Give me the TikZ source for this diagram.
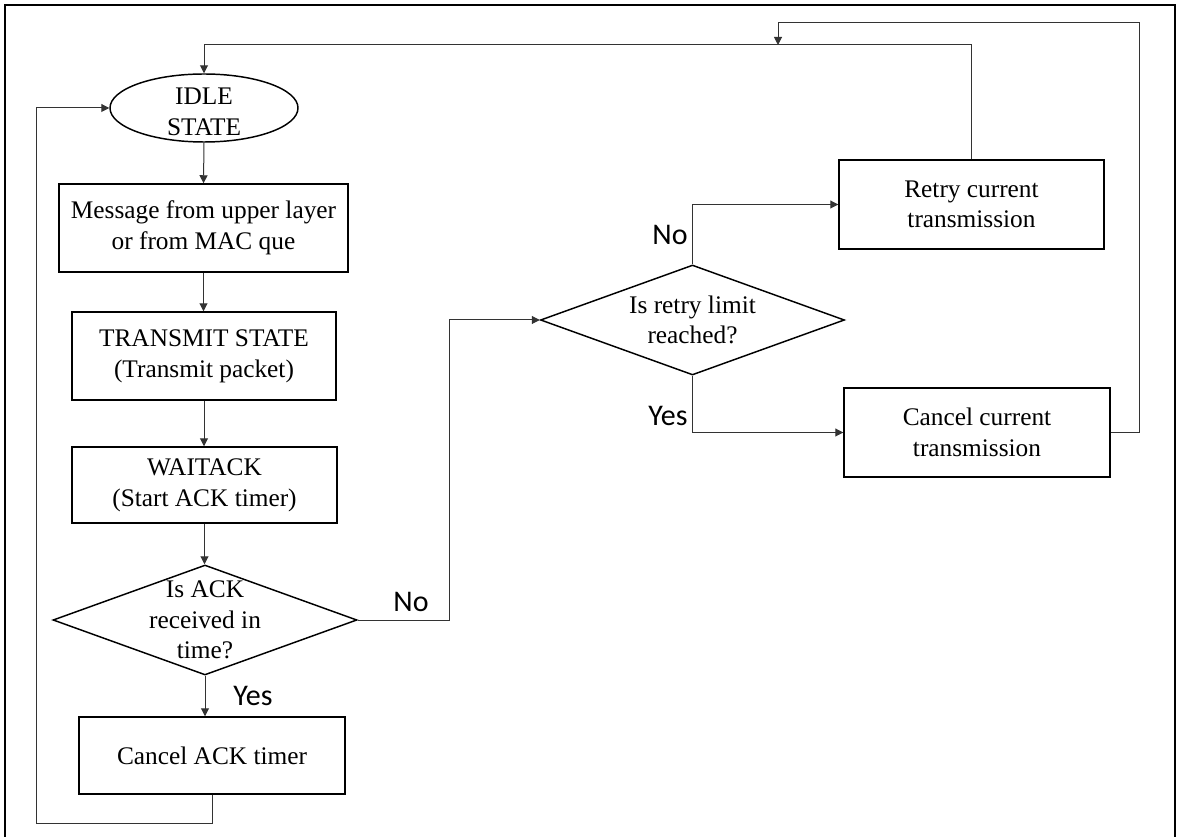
\documentclass[tikz,border=0pt]{standalone}
\usepackage{fontspec}
\setmainfont{Liberation Serif}
\newfontfamily\labelfont{Carlito}
\usetikzlibrary{shapes.geometric,arrows.meta}
\begin{document}
\begin{tikzpicture}[x=0.75pt,y=-0.75pt,
  txt/.style={font=\fontsize{19}{23}\selectfont,align=center},
  box/.style={draw=black,line width=1.1pt,rectangle,inner sep=2pt,txt},
  dia/.style={draw=black,line width=1.1pt,shape=diamond,inner sep=0pt,
    minimum width=304*0.75pt,minimum height=110*0.75pt},
  oval/.style={draw=black,line width=1.1pt,shape=ellipse,inner sep=0pt,
    minimum width=188*0.75pt,minimum height=68*0.75pt},
  conn/.style={draw=black!80,line width=0.75pt},
  arr/.style={conn,-{Triangle[length=6pt,width=6pt]}},
  lab/.style={font=\labelfont\fontsize{22.5}{25}\selectfont,inner sep=0pt}
]
\clip (0,0) rectangle (1178,837);
% outer frame (its lower edge lies below the page)
\draw[line width=1.5pt] (5,5) rectangle (1175,860);

% left column
\node[oval,label={[txt,yshift=-3pt]center:IDLE\\STATE}] (idle) at (204,108) {};
\node[box,minimum width=289*0.75pt,minimum height=88*0.75pt] (msg) at (203.5,228)
  {Message from upper layer\\or from MAC que};
\node[box,minimum width=264*0.75pt,minimum height=88*0.75pt] (tx) at (204,356)
  {TRANSMIT STATE\\(Transmit packet)};
\node[box,minimum width=265*0.75pt,minimum height=76*0.75pt] (wait) at (204.5,485)
  {WAITACK\\(Start ACK timer)};
\node[dia,label={[txt]center:Is ACK\\received in\\time?}] (ack) at (205,620) {};
\node[box,minimum width=266*0.75pt,minimum height=77*0.75pt] (cack) at (212,755.5)
  {Cancel ACK timer};

% right part
\node[dia,label={[txt]center:Is retry limit\\reached?}] (rd) at (692.5,320) {};
\node[box,minimum width=265*0.75pt,minimum height=89*0.75pt] (retry) at (971.5,204.5)
  {Retry current\\transmission};
\node[box,minimum width=266*0.75pt,minimum height=89*0.75pt] (ccur) at (977,432.5)
  {Cancel current\\transmission};

% branch labels
\node[lab] (noA) at (411,602) {No};
\node[lab] (yesA) at (253,696) {Yes};
\node[lab] (noR) at (670,235) {No};
\node[lab] (yesR) at (668,416) {Yes};

% routing points
\coordinate (loopL) at (36,823);
\coordinate (ackx) at (449,0);
\coordinate (topline) at (204,45);
\coordinate (rx) at (1139,23);
\coordinate (merge) at (778,45);

% connectors
\draw[arr] (idle.south) -- (msg.north);
\draw[arr] (msg.south) -- (msg.south |- tx.north);
\draw[arr] (tx.south) -- (tx.south |- wait.north);
\draw[arr] (wait.south) -- (wait.south |- ack.north);
\draw[arr] (ack.south) -- (ack.south |- cack.north);
\draw[arr] (cack.south) |- (loopL) |- (idle.west);
\draw[arr] (ack.east) -- (ack.east -| ackx) -- (ackx |- rd.west) -- (rd.west);
\draw[arr] (rd.north) |- (retry.west);
\draw[arr] (rd.south) |- (ccur.west);
\draw[arr] (retry.north) |- (topline) -- (idle.north);
\draw[arr] (ccur.east) -| (rx) -| (merge);
\end{tikzpicture}
\end{document}
